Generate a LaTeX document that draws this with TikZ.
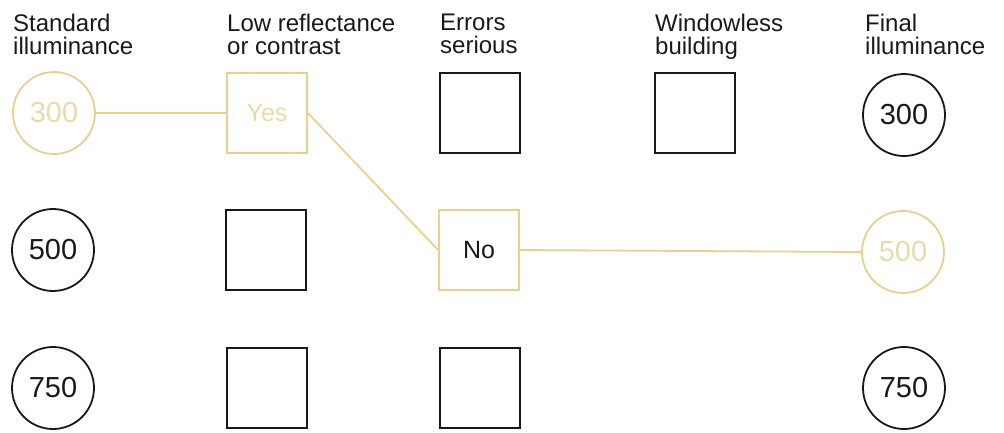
\documentclass[tikz,border=0pt]{standalone}
\usepackage{fontspec}
\setmainfont{Liberation Sans}
\definecolor{hl}{RGB}{232,208,142}
\definecolor{hltext}{RGB}{234,218,170}
\definecolor{ink}{RGB}{25,25,25}
\begin{document}
\begin{tikzpicture}[x=1pt,y=-1pt,
  lbl/.style={anchor=north west,inner sep=0pt,align=left,font=\fontsize{24}{23}\selectfont,text=ink},
  num/.style={circle,draw=ink,line width=1.8pt,minimum size=82pt,inner sep=0pt,font=\fontsize{29}{29}\selectfont,text=ink},
  sq/.style={rectangle,draw=ink,line width=2pt,minimum width=80pt,minimum height=80pt,inner sep=0pt,font=\fontsize{25}{25}\selectfont,text=ink},
  hlshape/.style={draw=hl,text=hltext},
  link/.style={draw=hl,line width=1.8pt}]
\useasboundingbox (0,0) rectangle (1004,432);
% headings
\node[lbl] (h1) at (13,14) {Standard\\illuminance};
\node[lbl] (h2) at (227,14) {Low reflectance\\or contrast};
\node[lbl] (h3) at (440,14) {Errors\\serious};
\node[lbl] (h4) at (655,14) {Windowless\\building};
\node[lbl] (h5) at (865,14) {Final\\illuminance};
% column 1
\node[num,hlshape] (s300) at (54,113) {300};
\node[num] (s500) at (53,250) {500};
\node[num] (s750) at (53,388) {750};
% column 2
\node[sq,draw=hl,line width=1.8pt,text=hltext] (yes) at (267,113) {Yes};
\node[sq] (l2) at (266,250) {};
\node[sq] (l3) at (267,388) {};
% column 3
\node[sq] (e1) at (480,113) {};
\node[sq,draw=hl,line width=1.8pt] (no) at (479,250) {No};
\node[sq] (e3) at (480,388) {};
% column 4
\node[sq] (w1) at (695,113) {};
% column 5
\node[num] (f300) at (904,115) {300};
\node[num,hlshape] (f500) at (903,252) {500};
\node[num] (f750) at (904,388) {750};
% connectors
\draw[link] (s300) -- (yes);
\draw[link] (yes.east) -- (no.west);
\draw[link] (no.east) -- (f500.west);
\end{tikzpicture}
\end{document}
